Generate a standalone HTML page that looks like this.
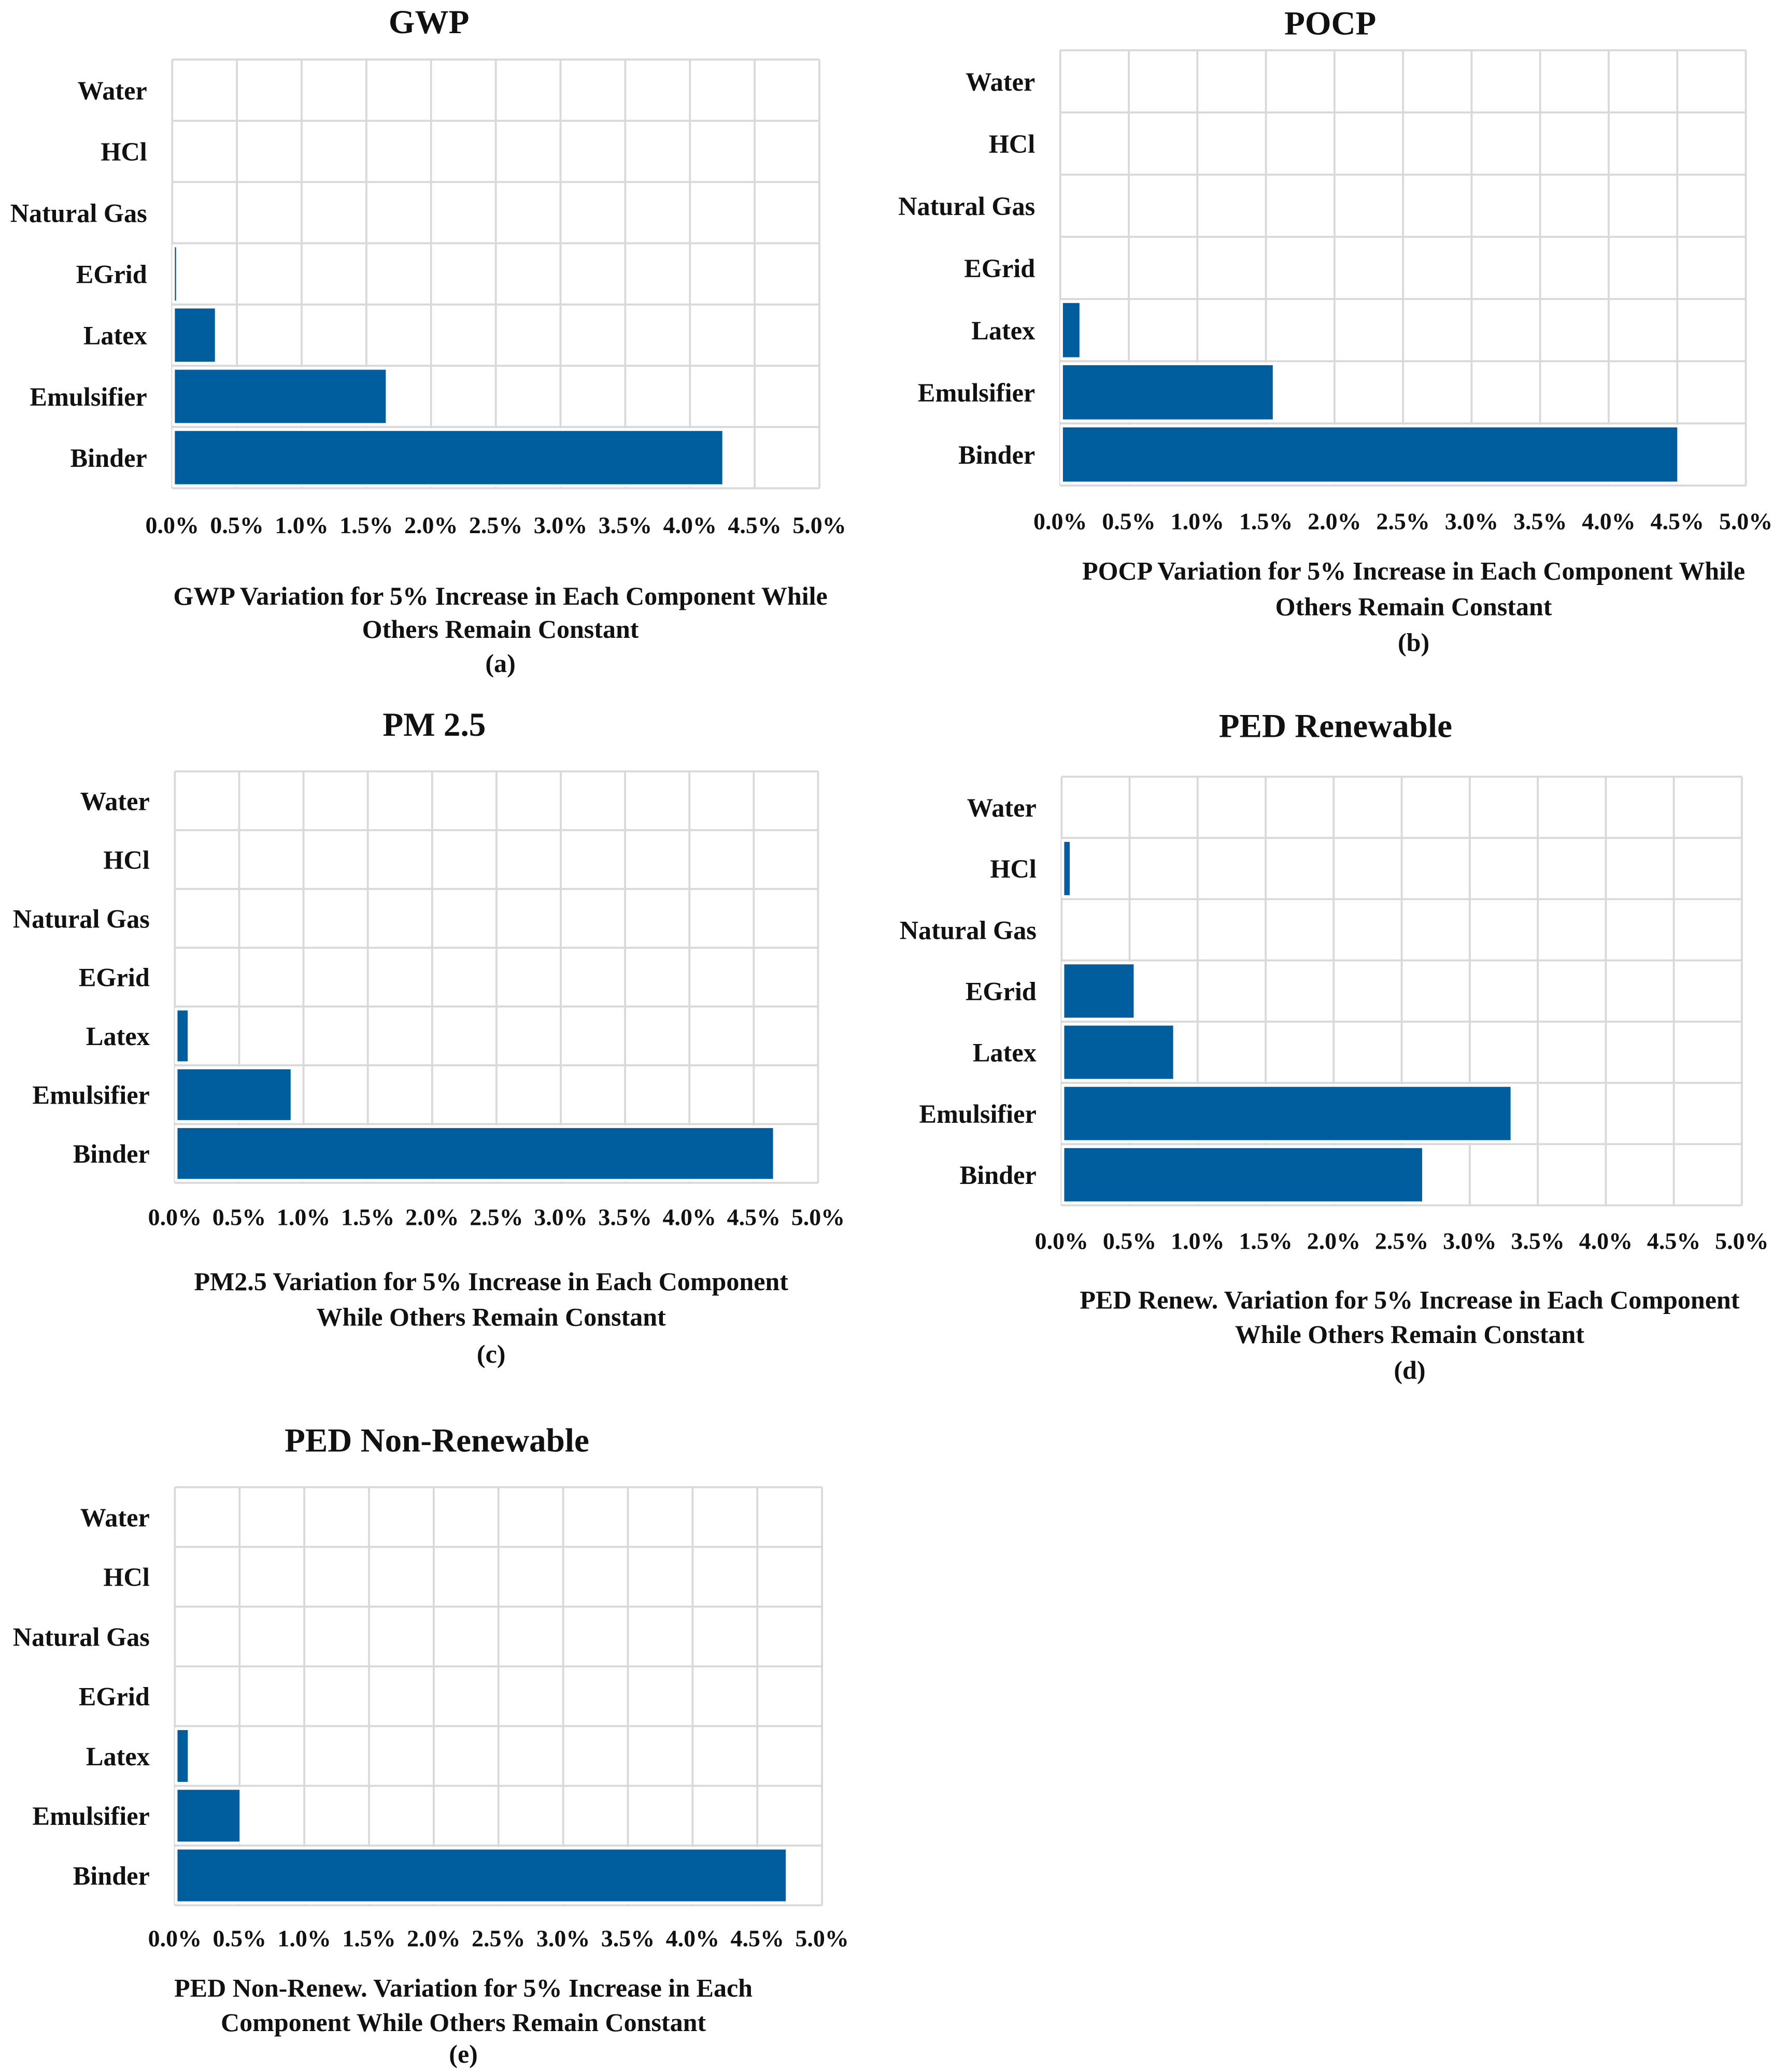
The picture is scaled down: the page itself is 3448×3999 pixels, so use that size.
<!DOCTYPE html>
<html><head><meta charset="utf-8">
<style>
html,body{margin:0;padding:0;background:#fff;}
svg{display:block;}
text{font-family:"Liberation Serif",serif;font-weight:bold;fill:#111;}
</style></head>
<body>
<svg id="fig" width="3448" height="3999" viewBox="0 0 1350 1566" xmlns="http://www.w3.org/2000/svg"></svg>
<script>
const categories = ["Water","HCl","Natural Gas","EGrid","Latex","Emulsifier","Binder"];
const tickLabels = ["0.0%","0.5%","1.0%","1.5%","2.0%","2.5%","3.0%","3.5%","4.0%","4.5%","5.0%"];
const gwpValues = [0,0,0,0.03,0.33,1.65,4.25];
const pocpValues = [0,0,0,0,0.14,1.55,4.5];
const pmValues = [0,0,0,0,0.1,0.9,4.65];
const pedRenValues = [0,0.06,0,0.53,0.82,3.3,2.65];
const pedNonRenValues = [0,0,0,0,0.1,0.5,4.72];

const panels = [
 {id:"gwp",title:"GWP",tx:324,ty:25,L:130,R:619,T:45,B:369,tickY:403,cap:["GWP Variation for 5% Increase in Each Component While","Others Remain Constant","(a)"],capX:378,capY:[457,482,508],vals:gwpValues},
 {id:"pocp",title:"POCP",tx:1005,ty:26,L:801,R:1319,T:38,B:367,tickY:400,cap:["POCP Variation for 5% Increase in Each Component While","Others Remain Constant","(b)"],capX:1068,capY:[438,465,492],vals:pocpValues},
 {id:"pm25",title:"PM 2.5",tx:328,ty:556,L:132,R:618,T:583,B:894,tickY:926,cap:["PM2.5 Variation  for 5% Increase in Each Component","While  Others Remain Constant","(c)"],capX:371,capY:[975,1002,1030],vals:pmValues},
 {id:"ped-renewable",title:"PED Renewable",tx:1009,ty:557,L:802,R:1316,T:587,B:911,tickY:944,cap:["PED Renew. Variation for 5% Increase in Each Component","While Others Remain Constant","(d)"],capX:1065,capY:[989,1015,1042],vals:pedRenValues},
 {id:"ped-nonrenewable",title:"PED Non-Renewable",tx:330,ty:1097,L:132,R:621,T:1124,B:1440,tickY:1471,cap:["PED Non-Renew. Variation for 5% Increase in Each","Component While Others Remain Constant","(e)"],capX:350,capY:[1509,1535,1559],vals:pedNonRenValues}
];
const NS="http://www.w3.org/2000/svg";
const svg=document.getElementById('fig');
function mk(tag,attrs,parent){const e=document.createElementNS(NS,tag);for(const k in attrs)e.setAttribute(k,attrs[k]);parent.appendChild(e);return e;}
panels.forEach(p=>{
  const g=mk('g',{},svg);
  
  
  const xs=v=>p.L+(v/5)*(p.R-p.L);
  const n=categories.length, rh=(p.B-p.T)/n;
  const ys=i=>p.T+i*rh;
  const t=mk('text',{x:p.tx,y:p.ty,'text-anchor':'middle','font-size':25.5},g);t.textContent=p.title;
  
  
  for(let k=0;k<tickLabels.length;k++){
    const x=xs(k*0.5);
    const l=mk('line',{x1:x,x2:x,y1:p.T,y2:p.B,stroke:'#d9d9d9','stroke-width':1.5},g);
    
    
    const tl=mk('text',{x:x,y:p.tickY,'text-anchor':'middle','font-size':18},g);tl.textContent=tickLabels[k];
    
    
  }
  for(let i=0;i<=n;i++){
    const y=ys(i);
    const l=mk('line',{x1:p.L,x2:p.R,y1:y,y2:y,stroke:'#d9d9d9','stroke-width':1.5},g);
    
    
  }
  categories.forEach((c,i)=>{
    const cy=ys(i)+rh/2;
    const lab=mk('text',{x:p.L-19,y:cy+7,'text-anchor':'end','font-size':19.7},g);lab.textContent=c;
    
    
    const v=p.vals[i];
    if(v>0){
      const b=mk('rect',{x:xs(0)+1,y:ys(i)+2,width:xs(v)-xs(0),height:rh-4,fill:'#005e9e',stroke:'#fff','stroke-width':2},g);
      
      
    }
  });
  p.cap.forEach((s,j)=>{
    const ct=mk('text',{x:p.capX,y:p.capY[j],'text-anchor':'middle','font-size':19.6},g);ct.textContent=s;
    
    
  });
});
</script>
</body></html>
